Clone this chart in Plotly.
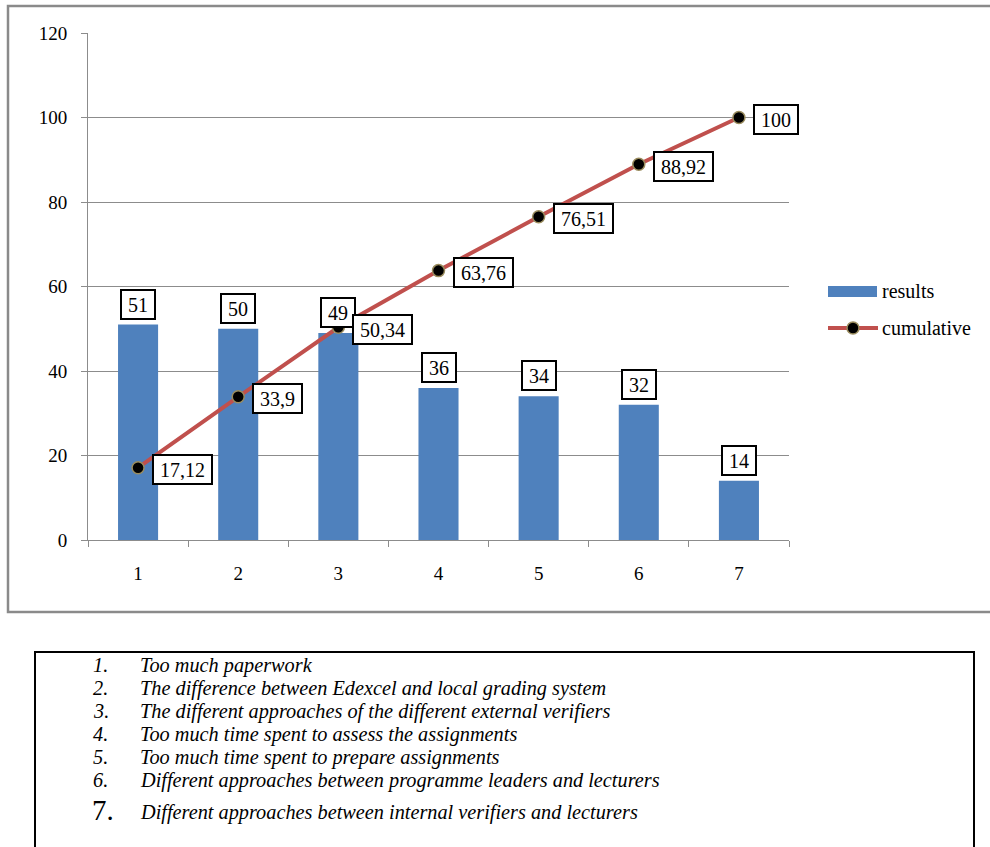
import plotly.graph_objects as go

# Survey results: number of responses per problem and cumulative share (%)
categories = ["1", "2", "3", "4", "5", "6", "7"]
results = [51, 50, 49, 36, 34, 32, 14]
cumulative = [17.12, 33.9, 50.34, 63.76, 76.51, 88.92, 100]
descriptions = [
    "Too much paperwork",
    "The difference between Edexcel and local grading system",
    "The different approaches of the different external verifiers",
    "Too much time spent to assess the assignments",
    "Too much time spent to prepare assignments",
    "Different approaches between programme leaders and lecturers",
    "Different approaches between internal verifiers and lecturers",
]

W, H = 990, 847
L, R, T, B = 88, 201, 33, 307
PW, PH = W - L - R, H - T - B

FONT = "Liberation Serif, Times New Roman, DejaVu Serif, serif"
FS = 20
KEY_FS = 20.3
BAR_COLOR = "#4F81BD"
LINE_COLOR = "#C0504D"
GRID = "#8C8C8C"


def fx(px):
    return (px - L) / PW


def fy(py):
    return (H - B - py) / PH


def fmt(v):
    return f"{v:g}".replace(".", ",")


def text_w(s, size=FS):
    w = 0
    for ch in s:
        w += 0.25 * size if ch in ",." else 0.5 * size
    return w


fig = go.Figure()
fig.add_trace(go.Bar(
    x=categories, y=results, name="results",
    marker=dict(color=BAR_COLOR, line=dict(width=0)),
    showlegend=False,
))
fig.add_trace(go.Scatter(
    x=categories, y=cumulative, name="cumulative", mode="lines+markers",
    line=dict(color=LINE_COLOR, width=4),
    marker=dict(size=12, color="black", line=dict(color="#9A8C5E", width=1.5)),
    showlegend=False,
))

annotations = []
# boxed value labels above the bars (x given as category index)
for i, v in enumerate(results):
    s = fmt(v)
    annotations.append(dict(
        x=i, y=v, xref="x", yref="y", text=s, showarrow=False,
        xanchor="center", yanchor="bottom", yshift=5,
        width=text_w(s) + 6, height=21,
        bordercolor="black", borderwidth=2, borderpad=3, bgcolor="white",
        font=dict(family=FONT, size=FS, color="black"),
    ))
# boxed labels to the right of the cumulative points
for i, v in enumerate(cumulative):
    s = fmt(v)
    annotations.append(dict(
        x=i, y=v, xref="x", yref="y", text=s, showarrow=False,
        xanchor="left", yanchor="middle", xshift=14, yshift=-2,
        width=text_w(s) + 6, height=21,
        bordercolor="black", borderwidth=2, borderpad=3, bgcolor="white",
        font=dict(family=FONT, size=FS, color="black"),
    ))

# legend entries
annotations.append(dict(
    x=fx(880), y=fy(291), xref="paper", yref="paper", text="results",
    showarrow=False, xanchor="left", yanchor="middle",
    font=dict(family=FONT, size=FS, color="black"),
))
annotations.append(dict(
    x=fx(880), y=fy(328), xref="paper", yref="paper", text="cumulative",
    showarrow=False, xanchor="left", yanchor="middle",
    font=dict(family=FONT, size=FS, color="black"),
))

# key to the numbered categories
line_y = [665, 688, 711, 734, 757, 780, 812]
for i, (d, yy) in enumerate(zip(descriptions, line_y)):
    num = f"{i + 1}."
    if i == 6:
        annotations.append(dict(
            x=fx(90), y=fy(yy - 2), xref="paper", yref="paper", text=num,
            showarrow=False, xanchor="left", yanchor="middle",
            font=dict(family=FONT, size=29, color="black"),
        ))
    else:
        annotations.append(dict(
            x=fx(91), y=fy(yy), xref="paper", yref="paper", text=f"<i>{num}</i>",
            showarrow=False, xanchor="left", yanchor="middle",
            font=dict(family=FONT, size=KEY_FS, color="black"),
        ))
    annotations.append(dict(
        x=fx(138), y=fy(yy), xref="paper", yref="paper", text=f"<i>{d}</i>",
        showarrow=False, xanchor="left", yanchor="middle",
        font=dict(family=FONT, size=KEY_FS, color="black"),
    ))

shapes = [
    # chart frame
    dict(type="rect", xref="paper", yref="paper",
         x0=fx(8), x1=fx(1000), y0=fy(612), y1=fy(6),
         line=dict(color="#8A8A8A", width=2.5), fillcolor="rgba(0,0,0,0)", layer="below"),
    # legend swatches
    dict(type="rect", xref="paper", yref="paper",
         x0=fx(828), x1=fx(877), y0=fy(297), y1=fy(286),
         line=dict(width=0), fillcolor=BAR_COLOR),
    dict(type="line", xref="paper", yref="paper",
         x0=fx(828), x1=fx(878), y0=fy(328), y1=fy(328),
         line=dict(color=LINE_COLOR, width=4)),
    dict(type="circle", xref="paper", yref="paper",
         x0=fx(847), x1=fx(859), y0=fy(334), y1=fy(322),
         line=dict(color="#9A8C5E", width=1.5), fillcolor="black"),
    # box around the category key
    dict(type="rect", xref="paper", yref="paper",
         x0=fx(35), x1=fx(974), y0=fy(860), y1=fy(652),
         line=dict(color="black", width=2), fillcolor="rgba(0,0,0,0)"),
]

fig.update_layout(
    width=W, height=H,
    margin=dict(l=L, r=R, t=T, b=B, autoexpand=False),
    paper_bgcolor="white", plot_bgcolor="white",
    font=dict(family=FONT, size=FS, color="black"),
    bargap=0.6,
    showlegend=False,
    annotations=annotations,
    shapes=shapes,
    xaxis=dict(
        type="category", range=[-0.5, 6.5],
        showline=True, linecolor=GRID, linewidth=1,
        ticks="outside", ticklen=6, tickcolor=GRID, tickson="boundaries",
        showgrid=False, zeroline=False, ticklabelstandoff=16,
        tickfont=dict(family=FONT, size=19, color="black"),
    ),
    yaxis=dict(
        range=[0, 120], dtick=20, tick0=0,
        showline=True, linecolor=GRID, linewidth=1,
        ticks="outside", ticklen=6, tickcolor=GRID,
        showgrid=True, gridcolor=GRID, gridwidth=1, zeroline=False,
        ticklabelstandoff=10,
        tickfont=dict(family=FONT, size=19, color="black"),
    ),
)

fig.write_html("out.html")
